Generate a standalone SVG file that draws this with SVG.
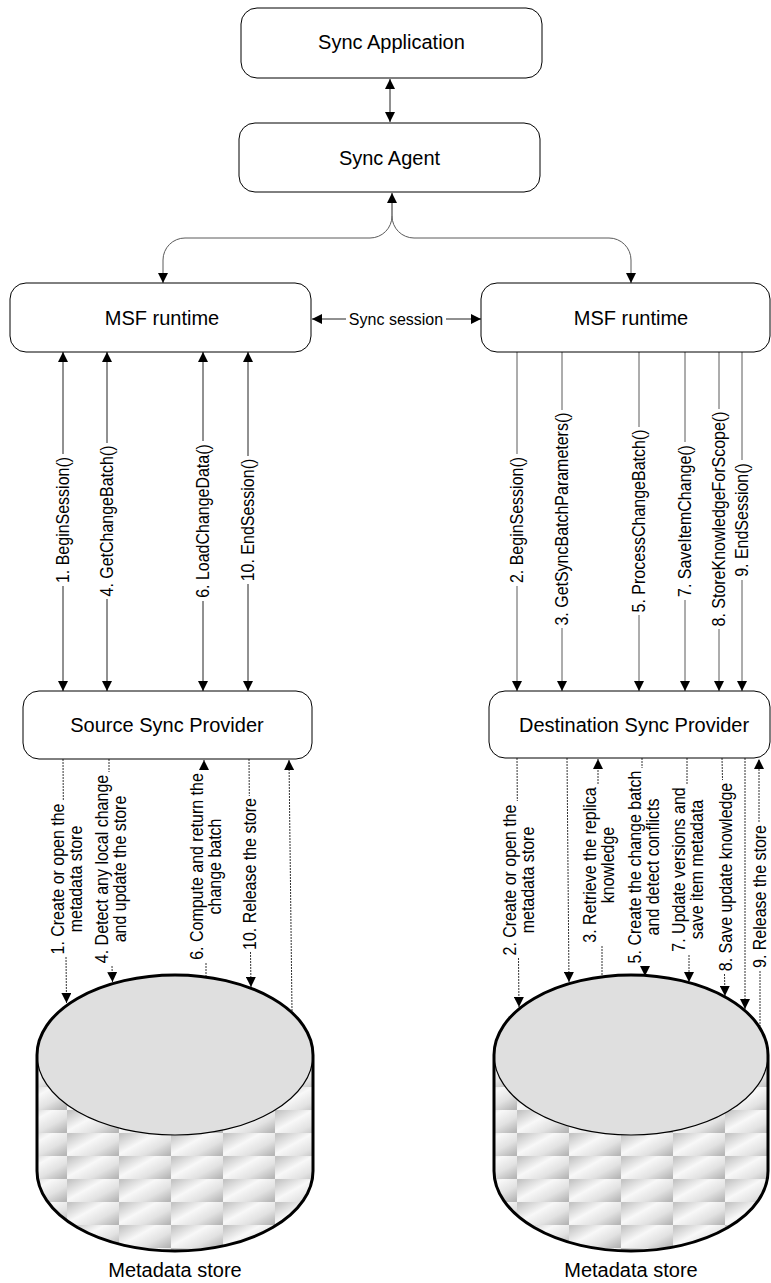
<svg xmlns="http://www.w3.org/2000/svg" width="771" height="1283" viewBox="0 0 771 1283">
  <style>
    .box { fill: #fff; stroke: #000; stroke-width: 1; }
    .title { font-family: "Liberation Sans", Arial, sans-serif; font-size: 20px; fill: #000; text-anchor: middle; }
    .lbl { font-family: "Liberation Sans", Arial, sans-serif; font-size: 16px; fill: #000; text-anchor: middle; dominant-baseline: central; }
    .wire { fill: none; stroke: #222; stroke-width: 1; }
    .wire-r { fill: none; stroke: #5a5a5a; stroke-width: 1; }
    .dot { fill: none; stroke: #333; stroke-width: 1; stroke-dasharray: 2 1; }
    .cyl-top { fill: #dfdfdf; stroke: #000; stroke-width: 1.2; }
    .cyl-rim { fill: none; stroke: #000; stroke-width: 3; }
  </style>
  <defs>
    <marker id="ah" viewBox="0 0 10 10" refX="10" refY="5" markerWidth="10" markerHeight="10" markerUnits="userSpaceOnUse" orient="auto-start-reverse">
      <path d="M0,0 L10,5 L0,10 Z" fill="#000"/>
    </marker>
    <linearGradient id="tileShade" x1="0" y1="0.1" x2="1" y2="0.9">
      <stop offset="0" stop-color="#c4c4c4"/>
      <stop offset="0.4" stop-color="#f8f8f8"/>
      <stop offset="0.7" stop-color="#e2e2e2"/>
      <stop offset="1" stop-color="#b6b6b6"/>
    </linearGradient>
    <pattern id="tilesL" patternUnits="userSpaceOnUse" x="67" y="1087" width="52" height="23">
      <rect width="52" height="23" fill="url(#tileShade)"/>
    </pattern>
    <pattern id="tilesR" patternUnits="userSpaceOnUse" x="517" y="1087" width="52" height="23">
      <rect width="52" height="23" fill="url(#tileShade)"/>
    </pattern>
  </defs>

  <rect width="771" height="1283" fill="#fff"/>

  <!-- connectors -->
  <g id="connectors">
    <!-- application <-> agent -->
    <line class="wire" x1="390" y1="79" x2="390" y2="122" marker-start="url(#ah)" marker-end="url(#ah)"/>
    <!-- agent <-> both runtimes -->
    <path class="wire" d="M392,216 L392,193" marker-end="url(#ah)"/>
    <path class="wire-r" d="M392,216 A22,22 0 0 1 370,238 L185,238 A22,22 0 0 0 163,260 L163,283" marker-end="url(#ah)"/>
    <path class="wire-r" d="M392,216 A22,22 0 0 0 414,238 L609,238 A22,22 0 0 1 631,260 L631,283" marker-end="url(#ah)"/>

    <!-- sync session -->
    <line class="wire" x1="312" y1="319" x2="346" y2="319" marker-start="url(#ah)"/>
    <line class="wire" x1="446" y1="319" x2="481" y2="319" marker-end="url(#ah)"/>
    <text class="lbl" x="396" y="319">Sync session</text>

    <!-- source runtime <-> source provider -->
    <line class="wire" x1="63" y1="352" x2="63" y2="454" marker-start="url(#ah)"/>
    <line class="wire" x1="63" y1="586" x2="63" y2="691" marker-end="url(#ah)"/>
    <text class="lbl" transform="translate(63,520) rotate(-90) scale(1,1.1)">1. BeginSession()</text>

    <line class="wire" x1="107" y1="352" x2="107" y2="443" marker-start="url(#ah)"/>
    <line class="wire" x1="107" y1="599" x2="107" y2="691" marker-end="url(#ah)"/>
    <text class="lbl" transform="translate(107,521) rotate(-90) scale(1,1.1)">4. GetChangeBatch()</text>

    <line class="wire" x1="203" y1="352" x2="203" y2="441" marker-start="url(#ah)"/>
    <line class="wire" x1="203" y1="601" x2="203" y2="691" marker-end="url(#ah)"/>
    <text class="lbl" transform="translate(203,521) rotate(-90) scale(1,1.1)">6. LoadChangeData()</text>

    <line class="wire" x1="248" y1="352" x2="248" y2="456" marker-start="url(#ah)"/>
    <line class="wire" x1="248" y1="584" x2="248" y2="691" marker-end="url(#ah)"/>
    <text class="lbl" transform="translate(248,520) rotate(-90) scale(1,1.1)">10. EndSession()</text>

    <!-- destination runtime -> destination provider -->
    <line class="wire-r" x1="517" y1="352" x2="517" y2="454"/>
    <line class="wire-r" x1="517" y1="586" x2="517" y2="691" marker-end="url(#ah)"/>
    <text class="lbl" transform="translate(517,520) rotate(-90) scale(1,1.1)">2. BeginSession()</text>

    <line class="wire-r" x1="562" y1="352" x2="562" y2="410"/>
    <line class="wire-r" x1="562" y1="628" x2="562" y2="691" marker-end="url(#ah)"/>
    <text class="lbl" transform="translate(562,519) rotate(-90) scale(1,1.1)">3. GetSyncBatchParameters()</text>

    <line class="wire-r" x1="639" y1="352" x2="639" y2="427"/>
    <line class="wire-r" x1="639" y1="615" x2="639" y2="691" marker-end="url(#ah)"/>
    <text class="lbl" transform="translate(639,521) rotate(-90) scale(1,1.1)">5. ProcessChangeBatch()</text>

    <line class="wire-r" x1="685" y1="352" x2="685" y2="442"/>
    <line class="wire-r" x1="685" y1="600" x2="685" y2="691" marker-end="url(#ah)"/>
    <text class="lbl" transform="translate(685,521) rotate(-90) scale(1,1.1)">7. SaveItemChange()</text>

    <line class="wire-r" x1="719" y1="352" x2="719" y2="409"/>
    <line class="wire-r" x1="719" y1="629" x2="719" y2="691" marker-end="url(#ah)"/>
    <text class="lbl" transform="translate(719,519) rotate(-90) scale(1,1.1)">8. StoreKnowledgeForScope()</text>

    <line class="wire-r" x1="742" y1="352" x2="742" y2="460"/>
    <line class="wire-r" x1="742" y1="580" x2="742" y2="691" marker-end="url(#ah)"/>
    <text class="lbl" transform="translate(742,520) rotate(-90) scale(1,1.1)">9. EndSession()</text>

    <!-- source provider <-> source store -->
    <line class="dot" x1="63" y1="759" x2="63.3" y2="801"/>
    <line class="dot" x1="66" y1="957" x2="66.5" y2="1003" marker-end="url(#ah)"/>
    <text class="lbl" transform="translate(66.5,879) rotate(-90) scale(1,1.1)"><tspan x="0" y="-8.2">1. Create or open the</tspan><tspan x="0" y="8.2">metadata store</tspan></text>

    <line class="dot" x1="109" y1="759" x2="109" y2="772"/>
    <line class="dot" x1="112" y1="966" x2="112.5" y2="982" marker-end="url(#ah)"/>
    <text class="lbl" transform="translate(110.5,869) rotate(-90) scale(1,1.1)"><tspan x="0" y="-8.2">4. Detect any local change</tspan><tspan x="0" y="8.2">and update the store</tspan></text>

    <line class="dot" x1="204" y1="770" x2="204" y2="760" marker-end="url(#ah)"/>
    <line class="dot" x1="206" y1="963" x2="206" y2="977"/>
    <text class="lbl" transform="translate(206,866.5) rotate(-90) scale(1,1.1)"><tspan x="0" y="-8.2">6. Compute and return the</tspan><tspan x="0" y="8.2">change batch</tspan></text>

    <line class="dot" x1="249" y1="759" x2="249.3" y2="796"/>
    <line class="dot" x1="250.5" y1="952" x2="251" y2="987" marker-end="url(#ah)"/>
    <text class="lbl" transform="translate(250,874) rotate(-90) scale(1,1.1)">10. Release the store</text>

    <line class="dot" x1="292" y1="1011" x2="289" y2="760" marker-end="url(#ah)"/>

    <!-- destination provider <-> destination store -->
    <line class="dot" x1="517" y1="758" x2="517.3" y2="801"/>
    <line class="dot" x1="518.5" y1="958" x2="519" y2="1007" marker-end="url(#ah)"/>
    <text class="lbl" transform="translate(518.5,880) rotate(-90) scale(1,1.1)"><tspan x="0" y="-8.2">2. Create or open the</tspan><tspan x="0" y="8.2">metadata store</tspan></text>

    <line class="dot" x1="567" y1="758" x2="569" y2="982" marker-end="url(#ah)"/>

    <line class="dot" x1="598" y1="784" x2="598" y2="759" marker-end="url(#ah)"/>
    <line class="dot" x1="602" y1="946" x2="602" y2="977"/>
    <text class="lbl" transform="translate(598.5,865) rotate(-90) scale(1,1.1)"><tspan x="0" y="-8.2">3. Retrieve the replica</tspan><tspan x="0" y="8.2">knowledge</tspan></text>

    <line class="dot" x1="642" y1="758" x2="642" y2="768"/>
    <line class="dot" x1="645" y1="966" x2="645" y2="976" marker-end="url(#ah)"/>
    <text class="lbl" transform="translate(643.5,867) rotate(-90) scale(1,1.1)"><tspan x="0" y="-8.2">5. Create the change batch</tspan><tspan x="0" y="8.2">and detect conflicts</tspan></text>

    <line class="dot" x1="687" y1="758" x2="687" y2="784"/>
    <line class="dot" x1="689" y1="955" x2="689" y2="982" marker-end="url(#ah)"/>
    <text class="lbl" transform="translate(687.5,869.5) rotate(-90) scale(1,1.1)"><tspan x="0" y="-8.2">7. Update versions and</tspan><tspan x="0" y="8.2">save item metadata</tspan></text>

    <line class="dot" x1="722" y1="758" x2="722.5" y2="780"/>
    <line class="dot" x1="724.5" y1="974" x2="725" y2="996" marker-end="url(#ah)"/>
    <text class="lbl" transform="translate(726,877) rotate(-90) scale(1,1.1)">8. Save update knowledge</text>

    <line class="dot" x1="745" y1="758" x2="745" y2="1009" marker-end="url(#ah)"/>

    <line class="dot" x1="759" y1="822" x2="759" y2="759" marker-end="url(#ah)"/>
    <line class="dot" x1="760" y1="971" x2="760" y2="1026"/>
    <text class="lbl" transform="translate(760,896.5) rotate(-90) scale(1,1.1)">9. Release the store</text>
  </g>

  <!-- nodes -->
  <g id="sync-application">
    <rect class="box" x="241" y="8" width="301" height="70" rx="16"/>
    <text class="title" x="391.5" y="49">Sync Application</text>
  </g>
  <g id="sync-agent">
    <rect class="box" x="239" y="123" width="301" height="69" rx="16"/>
    <text class="title" x="389.5" y="164.5">Sync Agent</text>
  </g>
  <g id="msf-runtime-source">
    <rect class="box" x="10" y="283" width="301" height="69" rx="16"/>
    <text class="title" x="162" y="324.5">MSF runtime</text>
  </g>
  <g id="msf-runtime-destination">
    <rect class="box" x="481" y="283" width="289" height="69" rx="16"/>
    <text class="title" x="631" y="324.5">MSF runtime</text>
  </g>
  <g id="source-sync-provider">
    <rect class="box" x="23" y="691" width="289" height="68" rx="16"/>
    <text class="title" x="167" y="732">Source Sync Provider</text>
  </g>
  <g id="destination-sync-provider">
    <rect class="box" x="489" y="691" width="281" height="67" rx="16"/>
    <text class="title" x="634" y="731.5">Destination Sync Provider</text>
  </g>

  <g id="source-metadata-store">
    <path d="M37,1055 L37,1171 A138,80 0 0 0 313,1171 L313,1055 Z" fill="url(#tilesL)"/>
    <ellipse class="cyl-top" cx="175" cy="1055" rx="138" ry="80"/>
    <path class="cyl-rim" d="M37,1171 L37,1055 A138,80 0 0 1 313,1055 L313,1171 A138,80 0 0 1 37,1171 Z"/>
    <text class="title" x="175" y="1277">Metadata store</text>
  </g>
  <g id="destination-metadata-store">
    <path d="M494,1055 L494,1171 A137,80 0 0 0 768,1171 L768,1055 Z" fill="url(#tilesR)"/>
    <ellipse class="cyl-top" cx="631" cy="1055" rx="137" ry="80"/>
    <path class="cyl-rim" d="M494,1171 L494,1055 A137,80 0 0 1 768,1055 L768,1171 A137,80 0 0 1 494,1171 Z"/>
    <text class="title" x="631" y="1277">Metadata store</text>
  </g>
</svg>
